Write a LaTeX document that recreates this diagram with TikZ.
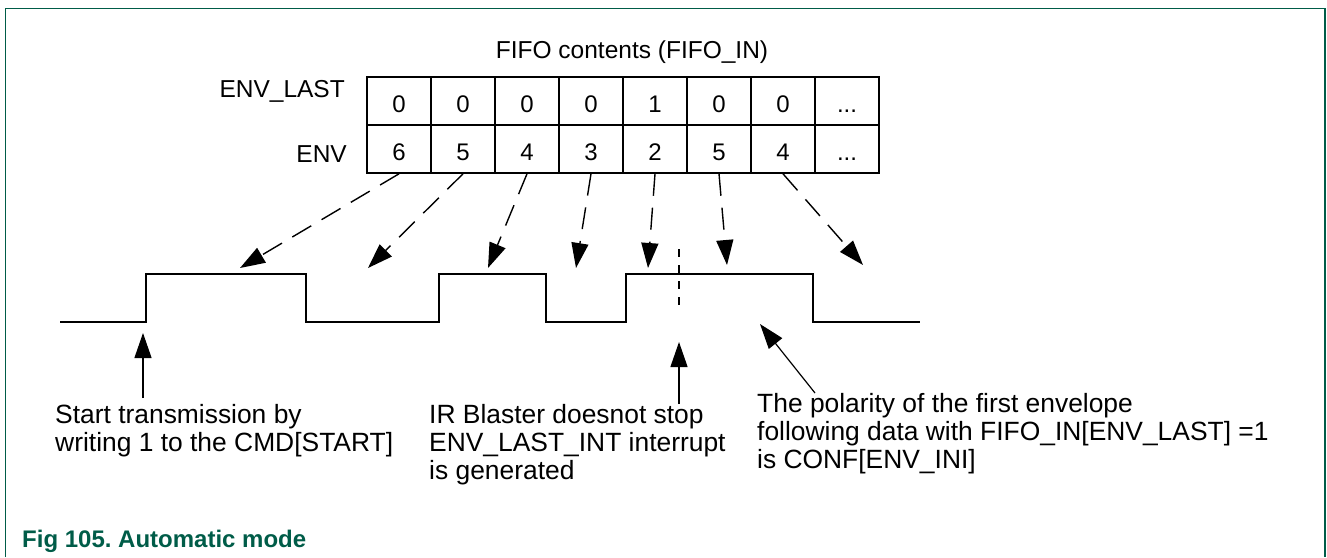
\documentclass[tikz,border=0pt]{standalone}
\usepackage{fontspec}
\setmainfont{Liberation Sans}
\usetikzlibrary{arrows.meta}
\definecolor{nxpgreen}{HTML}{005C48}
\frenchspacing
\begin{document}
\begin{tikzpicture}[x=1pt,y=-1pt,
  cell/.style={draw, line width=1.6pt, minimum width=64pt, minimum height=48pt, inner sep=0pt,
    text height=22pt, text depth=0pt, font=\fontsize{24}{28}\selectfont},
  lab/.style={font=\fontsize{24.5}{28}\selectfont, inner sep=0pt},
  note/.style={font=\fontsize{26.4}{28}\selectfont, align=left, inner sep=0pt, anchor=north west},
  wave/.style={line width=1.6pt, line join=miter},
  fifoarrow/.style={line width=1.4pt, dash pattern=on 22pt off 12pt, -{Triangle[length=25pt,width=17pt]}},
  notearrow/.style={line width=1.2pt, -{Triangle[length=25pt,width=17pt]}},
  marker/.style={line width=1.3pt, dash pattern=on 8pt off 8pt},
  frame/.style={draw=nxpgreen, line width=1.5pt},
  caption/.style={font=\bfseries\fontsize{24}{28}\selectfont, text=nxpgreen, anchor=base west, inner sep=0pt}
]
\useasboundingbox (0,0) rectangle (1327,557);
\draw[frame] (5.3,557) -- (5.3,8.3) -- (1325.2,8.3) -- (1325.2,557);

% header and row labels
\node[lab, anchor=base] (fifo) at (632,58) {FIFO contents (FIFO\_IN)};
\node[lab, anchor=base east] (envlast) at (345,97) {ENV\_LAST};
\node[lab, anchor=base east] (env) at (347,162) {ENV};

% FIFO cells
\foreach \v [count=\i] in {0,0,0,0,1,0,0}
  \node[cell] (L\i) at ({335+64*\i},101) {\v};
\node[cell] (L8) at (847,101) {...};
\foreach \v [count=\i] in {6,5,4,3,2,5,4}
  \node[cell] (E\i) at ({335+64*\i},149) {\v};
\node[cell] (E8) at (847,149) {...};

% waveform
\draw[wave] (60,322) -- (146,322) -- (146,274) -- (306,274) -- (306,322) -- (439,322)
  -- (439,274) -- (546,274) -- (546,322) -- (626,322) -- (626,274) -- (813,274)
  -- (813,322) -- (920,322);

% arrow targets on the waveform
\coordinate (t1) at (240,268);
\coordinate (t2) at (368,268);
\coordinate (t3) at (488,268);
\coordinate (t4) at (576,268);
\coordinate (t5) at (648,268);
\coordinate (t6) at (727,265);
\coordinate (t7) at (863,265);
\foreach \i in {1,...,7}
  \draw[fifoarrow] (E\i.south) -- (t\i);

% dashed marker
\coordinate (m1) at (679,249);
\coordinate (m2) at (679,307);
\draw[marker] (m1) -- (m2);

% annotations
\node[note] (n1) at (55,403.8) {Start transmission by\\writing 1 to the CMD[START]};
\node[note] (n2) at (429,404.1) {IR Blaster doesnot stop\\ENV\_LAST\_INT interrupt\\is generated};
\node[note] (n3) at (757,393.1) {The polarity of the first envelope\\following data with FIFO\_IN[ENV\_LAST] =1\\is CONF[ENV\_INI]};

\coordinate (a1tip) at (143,333);
\coordinate (a1tail) at (143,398);
\coordinate (a2tip) at (679,342);
\coordinate (a2tail) at (679,404);
\coordinate (a3tip) at (760,324);
\coordinate (a3tail) at (815,393);
\draw[notearrow] (a1tail) -- (a1tip);
\draw[notearrow] (a2tail) -- (a2tip);
\draw[notearrow] (a3tail) -- (a3tip);

\node[caption] (cap) at (22,547) {Fig 105. Automatic mode};
\end{tikzpicture}
\end{document}
